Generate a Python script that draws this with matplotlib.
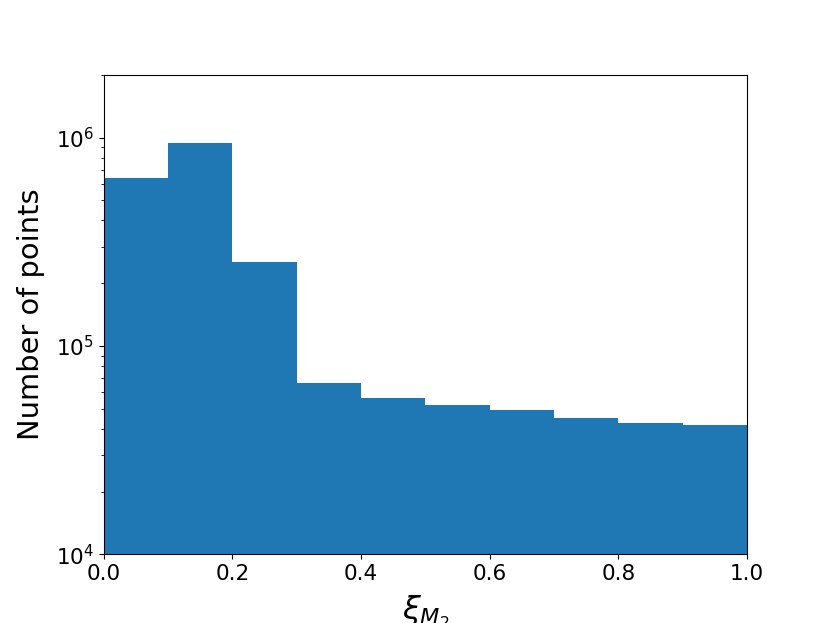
import numpy as np
import matplotlib
matplotlib.use('Agg')
from matplotlib import pyplot as plt

# histogram of xi_M2, 10 bins on [0, 1]
bin_edges = [0.0, 0.1, 0.2, 0.3, 0.4, 0.5, 0.6, 0.7, 0.8, 0.9, 1.0]
counts = [6.43e5, 9.46e5, 2.54e5, 6.61e4, 5.66e4, 5.24e4, 4.91e4, 4.49e4, 4.25e4, 4.16e4]

fig = plt.figure(figsize=(8.3, 6.23), dpi=100)
ax = fig.add_subplot(111)
ax.hist(bin_edges[:-1], bins=bin_edges, weights=counts, color='#1f77b4')
ax.set_yscale('log')
ax.set_xlim(0, 1)
ax.set_ylim(1e4, 2e6)
ax.tick_params(labelsize=15.5)
ax.set_xlabel(r'$\xi_{M_2}$', fontsize=23, labelpad=7)
ax.set_ylabel('Number of points', fontsize=20.8, labelpad=8)
fig.savefig('out.png', dpi=100)
